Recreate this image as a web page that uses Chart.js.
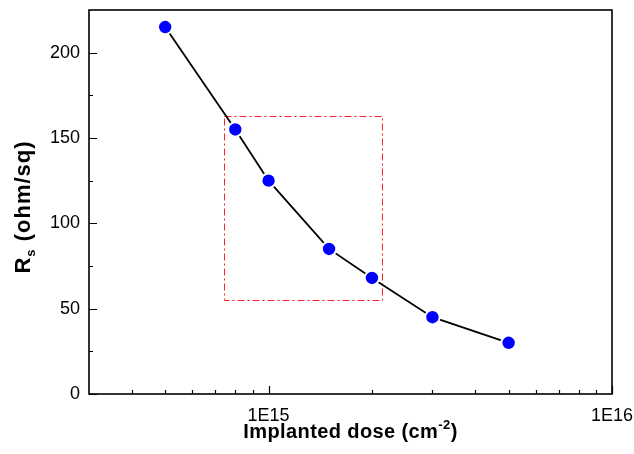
<!DOCTYPE html>
<html>
<head>
<meta charset="utf-8">
<script src="https://cdn.jsdelivr.net/npm/chart.js@4.4.0/dist/chart.umd.min.js"></script>
<style>
  html, body { margin: 0; padding: 0; background: #fff; }
  #wrap { width: 634px; height: 454px; position: relative; }
</style>
</head>
<body>
<div id="wrap"><canvas id="chart"></canvas></div>
<script>
// data
const doses = [5e14, 8e14, 1e15, 1.5e15, 2e15, 3e15, 5e15];
const sheetRes = [215, 155, 125, 85, 68, 45, 30];

// axis ticks
const yTicks = [0, 50, 100, 150, 200];
const yMinorTicks = [25, 75, 125, 175, 225];
const xMajorTicks = [1e15, 1e16];
const xMinorTicks = [3e14, 4e14, 5e14, 6e14, 7e14, 8e14, 9e14,
  2e15, 3e15, 4e15, 5e15, 6e15, 7e15, 8e15, 9e15];

// highlight box (data coords): [xMin, xMax], [yMin, yMax]
const boxX = [7.43e14, 2.15e15];
const boxY = [55, 163];

const FONT = "'Liberation Sans', Arial, sans-serif";

// Origin-style frame, inward ticks, highlight box and axis titles
const framePlugin = {
  id: 'frame',
  beforeDatasetsDraw(chart) {
    const ctx = chart.ctx;
    const x = chart.scales.x, y = chart.scales.y;
    ctx.save();
    ctx.strokeStyle = '#ff2020';
    ctx.lineWidth = 1;
    ctx.setLineDash([7, 3, 2, 3]);
    const x0 = x.getPixelForValue(boxX[0]), x1 = x.getPixelForValue(boxX[1]);
    const y0 = y.getPixelForValue(boxY[1]), y1 = y.getPixelForValue(boxY[0]);
    ctx.strokeRect(Math.round(x0) + 0.5, Math.round(y0) + 0.5, Math.round(x1 - x0), Math.round(y1 - y0));
    ctx.restore();
  },
  afterDraw(chart) {
    const ctx = chart.ctx;
    const a = chart.chartArea;
    const x = chart.scales.x, y = chart.scales.y;
    ctx.save();
    ctx.strokeStyle = '#000';
    ctx.lineWidth = 1.6;
    ctx.strokeRect(a.left, a.top, a.right - a.left, a.bottom - a.top);

    ctx.lineWidth = 1.2;
    ctx.beginPath();
    yTicks.forEach(v => {
      const p = Math.round(y.getPixelForValue(v)) + 0.5;
      ctx.moveTo(a.left, p); ctx.lineTo(a.left + 8, p);
    });
    yMinorTicks.forEach(v => {
      const p = Math.round(y.getPixelForValue(v)) + 0.5;
      if (p > a.top + 2) { ctx.moveTo(a.left, p); ctx.lineTo(a.left + 4, p); }
    });
    xMajorTicks.forEach(v => {
      const p = Math.round(x.getPixelForValue(v)) + 0.5;
      ctx.moveTo(p, a.bottom); ctx.lineTo(p, a.bottom - 8);
    });
    xMinorTicks.forEach(v => {
      const p = Math.round(x.getPixelForValue(v)) + 0.5;
      if (p > a.left + 2) { ctx.moveTo(p, a.bottom); ctx.lineTo(p, a.bottom - 4); }
    });
    ctx.stroke();

    // x title with superscript
    ctx.fillStyle = '#000';
    ctx.textBaseline = 'alphabetic';
    ctx.letterSpacing = '0.4px';
    const big = 'bold 20px ' + FONT, small = 'bold 13px ' + FONT;
    const t1 = 'Implanted dose (cm', t2 = '-2', t3 = ')';
    ctx.font = big;
    const w1 = ctx.measureText(t1).width, w3 = ctx.measureText(t3).width;
    ctx.font = small;
    const w2 = ctx.measureText(t2).width;
    let sx = (a.left + a.right) / 2 - (w1 + w2 + w3) / 2;
    const by = 438;
    ctx.font = big; ctx.fillText(t1, sx, by); sx += w1;
    ctx.font = small; ctx.fillText(t2, sx, by - 9); sx += w2;
    ctx.font = big; ctx.fillText(t3, sx, by);

    // y title with subscript, rotated
    ctx.translate(30, 207);
    ctx.rotate(-Math.PI / 2);
    ctx.letterSpacing = '1px';
    const big2 = 'bold 22px ' + FONT, small2 = 'bold 13px ' + FONT;
    const r1 = 'R', r2 = 's', r3 = ' (ohm/sq)';
    ctx.font = big2;
    const q1 = ctx.measureText(r1).width, q3 = ctx.measureText(r3).width;
    ctx.font = small2;
    const q2 = ctx.measureText(r2).width;
    let tx = -(q1 + q2 + q3) / 2;
    ctx.font = big2; ctx.fillText(r1, tx, 0); tx += q1;
    ctx.font = small2; ctx.fillText(r2, tx, 5); tx += q2;
    ctx.font = big2; ctx.fillText(r3, tx, 0);
    ctx.restore();
  }
};

new Chart(document.getElementById('chart'), {
  type: 'line',
  data: {
    labels: doses,
    datasets: [{
      data: doses.map((d, i) => ({ x: d, y: sheetRes[i] })),
      borderColor: '#000',
      borderWidth: 1.8,
      tension: 0,
      pointRadius: 7.2,
      pointBackgroundColor: '#0000ff',
      pointBorderColor: '#fff',
      pointBorderWidth: 2,
      fill: false
    }]
  },
  options: {
    responsive: true,
    maintainAspectRatio: false,
    animation: false,
    layout: { padding: { top: 10, right: 22, left: 0, bottom: 0 } },
    plugins: { legend: { display: false }, tooltip: { enabled: false } },
    scales: {
      x: {
        type: 'logarithmic',
        min: 3e14,
        max: 1e16,
        afterBuildTicks: s => { s.ticks = xMajorTicks.map(v => ({ value: v })); },
        afterFit: s => { s.height = 60; s.paddingLeft = 0; s.paddingRight = 0; },
        ticks: {
          color: '#000',
          font: { family: FONT, size: 18 },
          padding: 11,
          maxRotation: 0,
          autoSkip: false,
          callback: v => '1E' + Math.round(Math.log10(v))
        },
        grid: { display: false, drawTicks: false },
        border: { display: false }
      },
      y: {
        min: 0,
        max: 225,
        afterBuildTicks: s => { s.ticks = yTicks.map(v => ({ value: v })); },
        afterFit: s => { s.width = 89; s.paddingTop = 0; s.paddingBottom = 0; },
        ticks: {
          color: '#000',
          font: { family: FONT, size: 18 },
          padding: 9
        },
        grid: { display: false, drawTicks: false },
        border: { display: false }
      }
    }
  },
  plugins: [framePlugin]
});
</script>
</body>
</html>
